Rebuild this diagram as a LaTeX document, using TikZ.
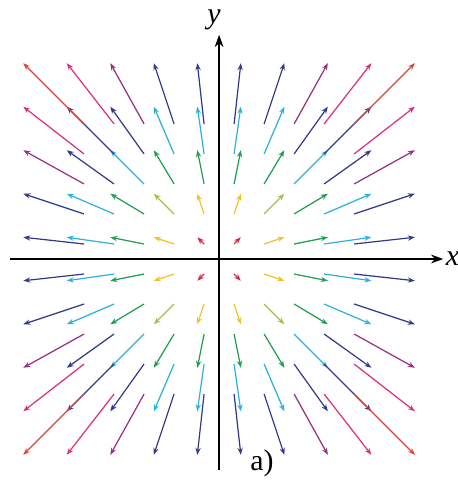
\documentclass[tikz,border=0pt]{standalone}
\usepackage{fontspec}
\setmainfont{Liberation Serif}
\usepackage{xcolor}
\usepackage{tikz}
\usetikzlibrary{arrows.meta,calc}
\definecolor{vc0}{RGB}{214,40,72}
\definecolor{vc1}{RGB}{238,196,40}
\definecolor{vc2}{RGB}{176,186,78}
\definecolor{vc3}{RGB}{34,158,84}
\definecolor{vc4}{RGB}{44,178,218}
\definecolor{vc5}{RGB}{52,58,138}
\definecolor{vc6}{RGB}{150,48,128}
\definecolor{vc7}{RGB}{218,48,128}
\definecolor{vc8}{RGB}{218,68,58}
\tikzset{
  vec/.style={line width=0.7pt,-{Stealth[length=4pt,width=3pt]}},
  axis/.style={line width=0.8pt,-{Stealth[length=7pt,width=5pt]}},
  lbl/.style={font=\fontsize{17}{20}\selectfont}
}

\begin{document}
\begin{tikzpicture}[x=0.6cm,y=0.6cm]
\useasboundingbox (-7.3,-7.53) rectangle (7.93,8.63);
% axes
\coordinate (xl) at (-6.97,0); \coordinate (xr) at (7.47,0);
\coordinate (yb) at (0,-7.03); \coordinate (yt) at (0,7.47);
\draw[axis] (xl) -- (xr);
\draw[axis] (yb) -- (yt);
\node[lbl] (xlab) at (7.78,0) {\textit{x}};
\node[lbl] (ylab) at (-0.17,7.98) {\textit{y}};
\node[lbl] (tag) at (1.43,-6.8) {a)};
% field F(x,y) = (x,y), coloured by length
\foreach \sx in {-1,1} {
  \foreach \sy in {-1,1} {
    \foreach \i in {1,...,5} {
      \foreach \j in {1,...,5} {
        \pgfmathsetmacro\rr{(\i-0.5)^2+(\j-0.5)^2}
        \pgfmathtruncatemacro\ci{(\rr<1)?0:((\rr<3)?1:((\rr<5)?2:((\rr<10)?3:((\rr<16)?4:((\rr<25)?5:((\rr<30)?6:((\rr<35)?7:8)))))))}
        \draw[vec,vc\ci] ({\sx*(\i-0.5)},{\sy*(\j-0.5)}) -- ++({0.45*\sx*(\i-0.5)},{0.45*\sy*(\j-0.5)});
      }
    }
  }
}
\end{tikzpicture}
\end{document}
